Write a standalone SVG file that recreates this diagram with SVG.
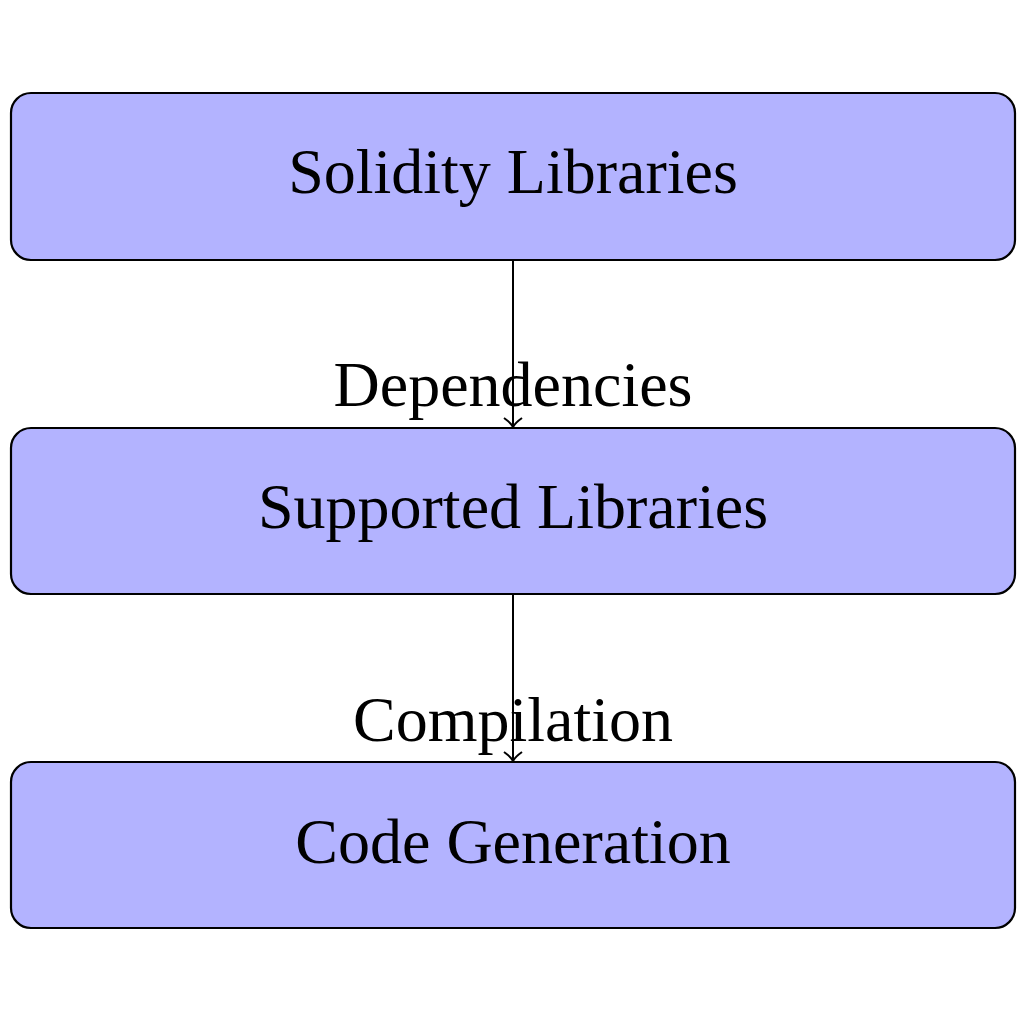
<svg xmlns="http://www.w3.org/2000/svg" width="1024" height="1024" viewBox="0 0 1024 1024">
<style>
.box{fill:#b3b3ff;stroke:#000;stroke-width:2.2}
.t{font-family:"Liberation Serif","DejaVu Serif",serif;font-size:64px;text-anchor:middle;fill:#000}
.e{stroke:#000;stroke-width:2;fill:none}
</style>
<defs>
<marker id="ah" markerWidth="24" markerHeight="24" refX="12" refY="12" orient="auto" markerUnits="userSpaceOnUse">
<path d="M3,3 Q8,10 12,12 Q8,14 3,21" fill="none" stroke="#000" stroke-width="2"/>
</marker>
</defs>
<rect width="1024" height="1024" fill="#fff"/>
<g id="connectors">
<line class="e" x1="513" y1="260" x2="513" y2="427" marker-end="url(#ah)"/>
<line class="e" x1="513" y1="594" x2="513" y2="761" marker-end="url(#ah)"/>
<text class="t" x="513" y="406">Dependencies</text>
<text class="t" x="513" y="741">Compilation</text>
</g>
<g id="solidity">
<rect class="box" x="11" y="93" width="1004" height="167" rx="20"/>
<text class="t" x="513" y="193">Solidity Libraries</text>
</g>
<g id="supported">
<rect class="box" x="11" y="428" width="1004" height="166" rx="20"/>
<text class="t" x="513" y="528">Supported Libraries</text>
</g>
<g id="codegen">
<rect class="box" x="11" y="762" width="1004" height="166" rx="20"/>
<text class="t" x="513" y="863">Code Generation</text>
</g>
</svg>
